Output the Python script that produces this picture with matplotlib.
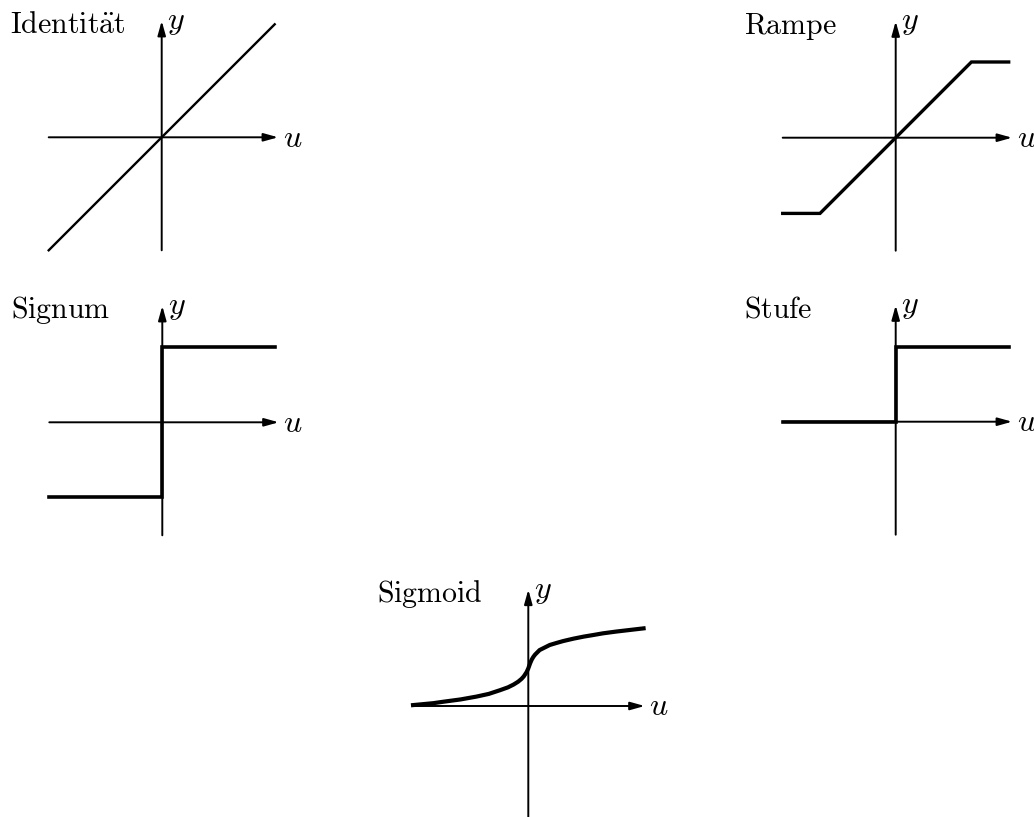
import matplotlib
matplotlib.use("Agg")
from matplotlib import pyplot as plt

plt.rcParams['mathtext.fontset'] = 'cm'

# function values (u, y in panel units)
ident_u = [-1.0, 1.0]
ident_y = [-1.0, 1.0]

ramp_u = [-1.0, -0.67, 0.67, 1.0]
ramp_y = [-0.67, -0.67, 0.67, 0.67]

sign_u = [-1.0, 0.0, 0.0, 1.0]
sign_y = [-0.66, -0.66, 0.67, 0.67]

step_u = [-1.0, 0.0, 0.0, 1.0]
step_y = [0.0, 0.0, 0.66, 0.66]

sigm_u = [-1.02, -0.84, -0.75, -0.60, -0.46, -0.35, -0.25, -0.18, -0.13,
          -0.09, -0.06, -0.04, -0.015, 0.0, 0.015, 0.03, 0.045, 0.06, 0.08,
          0.10, 0.13, 0.19, 0.25, 0.31, 0.40, 0.49, 0.58, 0.66, 0.78, 0.90,
          1.02]
sigm_y = [0.008, 0.025, 0.038, 0.058, 0.083, 0.107, 0.14, 0.165, 0.19,
          0.215, 0.24, 0.262, 0.30, 0.333, 0.375, 0.41, 0.435, 0.455, 0.475,
          0.495, 0.51, 0.54, 0.558, 0.575, 0.596, 0.614, 0.629, 0.643, 0.659,
          0.673, 0.687]

titles = [r'$\mathrm{Identit\ddot{a}t}$', r'$\mathrm{Rampe}$',
          r'$\mathrm{Signum}$', r'$\mathrm{Stufe}$', r'$\mathrm{Sigmoid}$']

W, H = 1034, 817
S = 113.0      # pixels per unit
HALF = 1.5


def make_panel(fig, ox, oy):
    ax = fig.add_axes([(ox - HALF * S) / W, (H - oy - HALF * S) / H,
                       2 * HALF * S / W, 2 * HALF * S / H])
    ax.set_xlim(-HALF, HALF)
    ax.set_ylim(-HALF, HALF)
    ax.axis('off')
    return ax


def draw_axes(ax):
    ap = dict(arrowstyle='-|>,head_length=0.43,head_width=0.12', lw=1.4,
              color='k', shrinkA=0, shrinkB=0, mutation_scale=20)
    ax.annotate('', xy=(1.03, 0), xytext=(-1.0, 0), arrowprops=ap)
    ax.annotate('', xy=(0, 1.03), xytext=(0, -1.0), arrowprops=ap)
    ax.text(1.07, -0.083, r'$u$', fontsize=23, va='baseline', ha='left')
    ax.text(0.05, 0.96, r'$y$', fontsize=23, va='baseline', ha='left')


fig = plt.figure(figsize=(W / 100, H / 100), dpi=100)

panels = [
    ((161.7, 137.3), ident_u, ident_y, 1.7),
    ((895.7, 137.7), ramp_u, ramp_y, 2.4),
    ((162.3, 422.3), sign_u, sign_y, 2.6),
    ((895.7, 421.7), step_u, step_y, 2.6),
    ((528.3, 706.0), sigm_u, sigm_y, 3.0),
]

for (pos, u, y, lw), title in zip(panels, titles):
    ax = make_panel(fig, *pos)
    draw_axes(ax)
    ax.plot(u, y, color='k', lw=lw, solid_joinstyle='miter', zorder=3)
    ax.text(-1.34, 0.92, title, fontsize=21.5, va='baseline', ha='left')

fig.savefig('out.png', dpi=100)
